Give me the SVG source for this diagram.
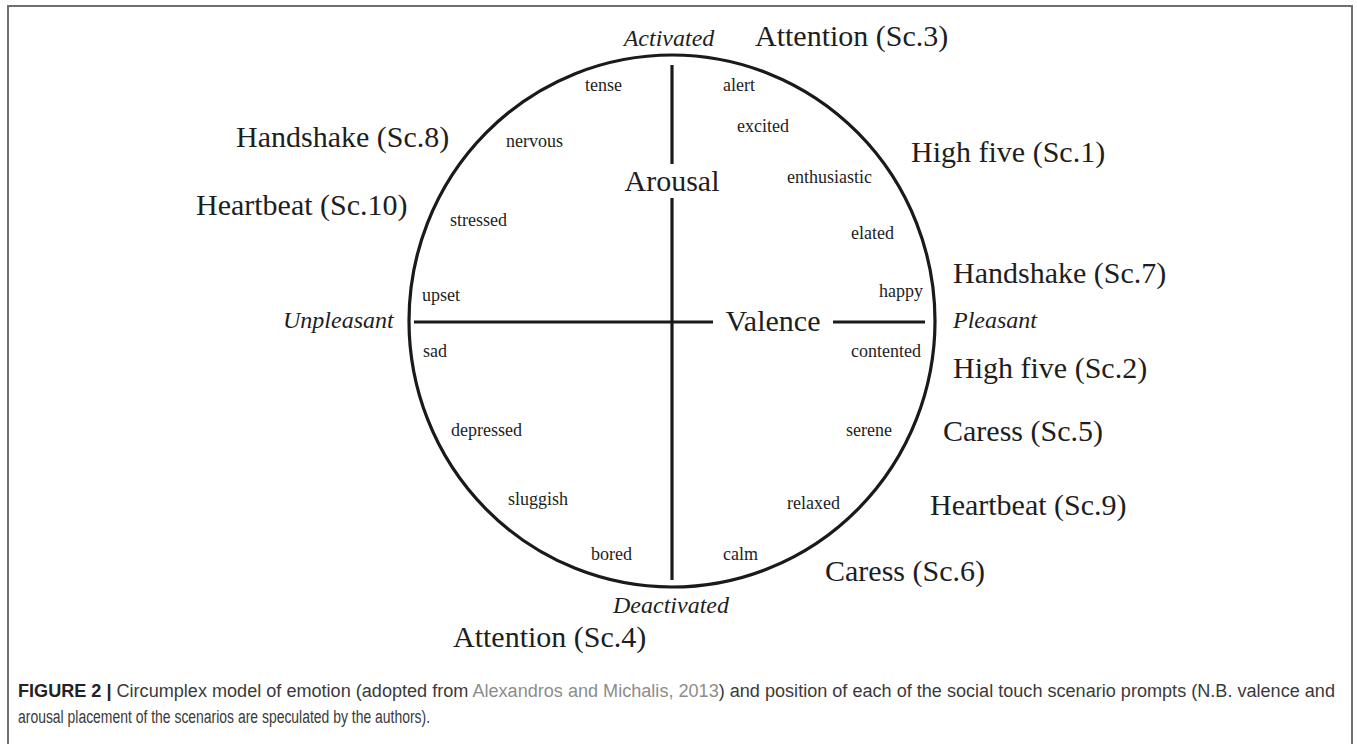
<svg xmlns="http://www.w3.org/2000/svg" width="1357" height="744" viewBox="0 0 1357 744">
<style>
.big{font-family:"Liberation Serif","Times New Roman",serif;font-size:30px;fill:#1e1e1e}
.ax{font-family:"Liberation Serif","Times New Roman",serif;font-size:24px;font-style:italic;fill:#1e1e1e}
.sm{font-family:"Liberation Serif","Times New Roman",serif;font-size:18px;fill:#1e1e1e}
.ln{stroke:#1a1a1a;stroke-width:3.2;fill:none}
.cap{font-family:"Liberation Sans Narrow","Liberation Sans",Arial,sans-serif;font-size:18px;fill:#3a3a3a}
</style>
<rect x="0" y="0" width="1357" height="744" fill="#ffffff"/>
<rect x="8" y="6" width="1344" height="760" fill="none" stroke="#707070" stroke-width="2"/>
<g id="circle">
<ellipse cx="672" cy="321" rx="263" ry="266" class="ln"/>
</g>
<g id="connectors">
<line x1="672" y1="65" x2="672" y2="164" class="ln"/>
<line x1="672" y1="198" x2="672" y2="580" class="ln"/>
<line x1="414" y1="322" x2="713" y2="322" class="ln"/>
<line x1="833" y1="322" x2="925" y2="322" class="ln"/>
</g>
<g id="axis-labels">
<text id="arousal" class="big" x="672" y="191" text-anchor="middle">Arousal</text>
<text id="valence" class="big" x="773" y="331" text-anchor="middle">Valence</text>
<text id="activated" class="ax" x="669" y="46" text-anchor="middle">Activated</text>
<text id="deactivated" class="ax" x="671" y="613" text-anchor="middle">Deactivated</text>
<text id="unpleasant" class="ax" x="283" y="328">Unpleasant</text>
<text id="pleasant" class="ax" x="953" y="328">Pleasant</text>
</g>
<g id="emotions">
<text class="sm" x="585" y="91">tense</text>
<text class="sm" x="723" y="91">alert</text>
<text class="sm" x="506" y="147">nervous</text>
<text class="sm" x="737" y="132">excited</text>
<text class="sm" x="787" y="183">enthusiastic</text>
<text class="sm" x="450" y="226">stressed</text>
<text class="sm" x="851" y="239">elated</text>
<text class="sm" x="422" y="301">upset</text>
<text class="sm" x="923" y="297" text-anchor="end">happy</text>
<text class="sm" x="423" y="357">sad</text>
<text class="sm" x="921" y="357" text-anchor="end">contented</text>
<text class="sm" x="451" y="436">depressed</text>
<text class="sm" x="846" y="436">serene</text>
<text class="sm" x="508" y="505">sluggish</text>
<text class="sm" x="840" y="509" text-anchor="end">relaxed</text>
<text class="sm" x="591" y="560">bored</text>
<text class="sm" x="723" y="560">calm</text>
</g>
<g id="scenarios">
<text id="sc3" class="big" x="755" y="46">Attention (Sc.3)</text>
<text id="sc8" class="big" x="236" y="147">Handshake (Sc.8)</text>
<text id="sc10" class="big" x="196" y="215">Heartbeat (Sc.10)</text>
<text id="sc1" class="big" x="911" y="162">High five (Sc.1)</text>
<text id="sc7" class="big" x="953" y="283">Handshake (Sc.7)</text>
<text id="sc2" class="big" x="953" y="378">High five (Sc.2)</text>
<text id="sc5" class="big" x="943" y="441">Caress (Sc.5)</text>
<text id="sc9" class="big" x="930" y="515">Heartbeat (Sc.9)</text>
<text id="sc6" class="big" x="825" y="581">Caress (Sc.6)</text>
<text id="sc4" class="big" x="453" y="647">Attention (Sc.4)</text>
</g>
<g id="caption">
<text class="cap" x="18" y="697" textLength="1317" lengthAdjust="spacingAndGlyphs"><tspan font-weight="bold" fill="#222">FIGURE 2 | </tspan>Circumplex model of emotion (adopted from <tspan fill="#8c8c8c">Alexandros and Michalis, 2013</tspan>) and position of each of the social touch scenario prompts (N.B. valence and</text>
<text class="cap" x="18" y="723" textLength="412" lengthAdjust="spacingAndGlyphs">arousal placement of the scenarios are speculated by the authors).</text>
</g>
</svg>
